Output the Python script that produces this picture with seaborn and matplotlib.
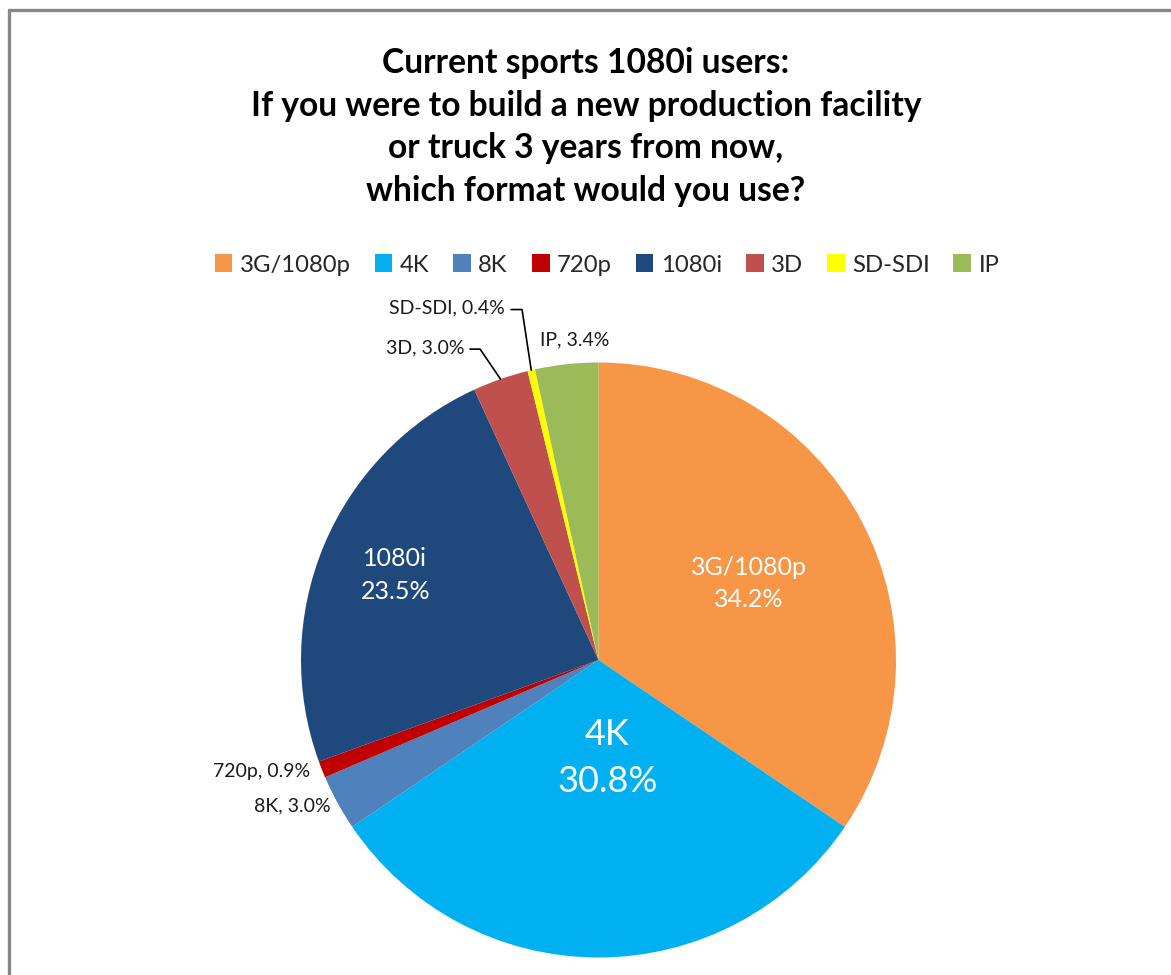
import numpy as np
import matplotlib
matplotlib.use("Agg")
import matplotlib.pyplot as plt
from matplotlib.lines import Line2D
from matplotlib.patches import Patch
import seaborn as sns

sns.set_theme(style="white")
plt.rcParams["font.family"] = ["Lato", "DejaVu Sans"]

# Survey answers: share of respondents per format (%)
formats = ["3G/1080p", "4K", "8K", "720p", "1080i", "3D", "SD-SDI", "IP"]
shares = [34.2, 30.8, 3.0, 0.9, 23.5, 3.0, 0.4, 3.4]
colors = ["#F79646", "#00B0F0", "#4F81BD", "#C00000",
          "#1F497D", "#C0504D", "#FFFF00", "#9BBB59"]

title = ("Current sports 1080i users:\n"
         "If you were to build a new production facility\n"
         "or truck 3 years from now,\n"
         "which format would you use?")

W, H = 1171, 975
fig = plt.figure(figsize=(W / 100, H / 100), dpi=100)

# chart frame (top and left edges visible)
frame_kw = dict(color="#878787", lw=2.4, transform=fig.transFigure)
fig.add_artist(Line2D([8.5 / W, 1.01], [1 - 9.5 / H, 1 - 9.5 / H], **frame_kw))
fig.add_artist(Line2D([8.5 / W, 8.5 / W], [1 - 9.5 / H, -0.01], **frame_kw))

# pie axes: centre (598.5, 660) px, radius 297.5 px
cx, cy, R = 598.5, 660.0, 297.5
ax = fig.add_axes([(cx - R) / W, (H - cy - R) / H, 2 * R / W, 2 * R / H])
wedges, _ = ax.pie(shares, colors=colors, startangle=90, counterclock=False,
                   radius=1.0, wedgeprops=dict(linewidth=0))
ax.set_xlim(-1, 1)
ax.set_ylim(-1, 1)
ax.set_aspect("equal")
ax.axis("off")

total = sum(shares)
def mid_angle(i):
    before = sum(shares[:i])
    frac = (before + shares[i] / 2) / total
    return np.deg2rad(90 - 360 * frac)

def pt(i, r):
    a = mid_angle(i)
    return r * np.cos(a), r * np.sin(a)

# labels inside the large slices: radius, font size, x shift
inside = {0: (0.55, 18, 0.02), 1: (0.33, 26, 0.03), 4: (0.74, 18, 0.0)}
for i, (r, fs, dx) in inside.items():
    x, y = pt(i, r)
    ax.text(x + dx, y, f"{formats[i]}\n{shares[i]:.1f}%", color="white",
            ha="center", va="center", fontsize=fs, linespacing=1.5)

lab_kw = dict(fontsize=14, color="#1a1a1a", clip_on=False)
line_kw = dict(color="black", lw=1.2, clip_on=False)

# SD-SDI with elbow leader
x0, y0 = pt(6, 1.0)
ax.plot([-0.294, -0.257, x0], [1.178, 1.178, y0], **line_kw)
ax.text(-0.316, 1.183, f"{formats[6]}, {shares[6]:.1f}%", ha="right", va="center", **lab_kw)

# 3D with elbow leader
x0, y0 = pt(5, 1.0)
ax.plot([-0.432, -0.398, x0], [1.045, 1.045, y0], **line_kw)
ax.text(-0.452, 1.049, f"{formats[5]}, {shares[5]:.1f}%", ha="right", va="center", **lab_kw)

# IP
ax.text(-0.195, 1.076, f"{formats[7]}, {shares[7]:.1f}%", ha="left", va="center", **lab_kw)

# 720p and 8K on the left rim
ax.text(-0.968, -0.376, f"{formats[3]}, {shares[3]:.1f}%", ha="right", va="center", **lab_kw)
ax.text(-0.902, -0.491, f"{formats[2]}, {shares[2]:.1f}%", ha="right", va="center", **lab_kw)

# title
fig.text(586 / W, 1 - 127 / H, title, ha="center", va="center",
         fontsize=24.2, fontweight="bold", color="black", linespacing=1.42)

# legend
handles = [Patch(facecolor=c, edgecolor="none") for c in colors]
fig.legend(handles, formats, loc="center", bbox_to_anchor=(607 / W, 1 - 265 / H),
           ncol=len(formats), frameon=False, fontsize=17.2,
           handlelength=0.75, handleheight=0.75, handletextpad=0.3,
           columnspacing=1.0, borderaxespad=0)

fig.savefig("out.png", dpi=100, facecolor="white")
